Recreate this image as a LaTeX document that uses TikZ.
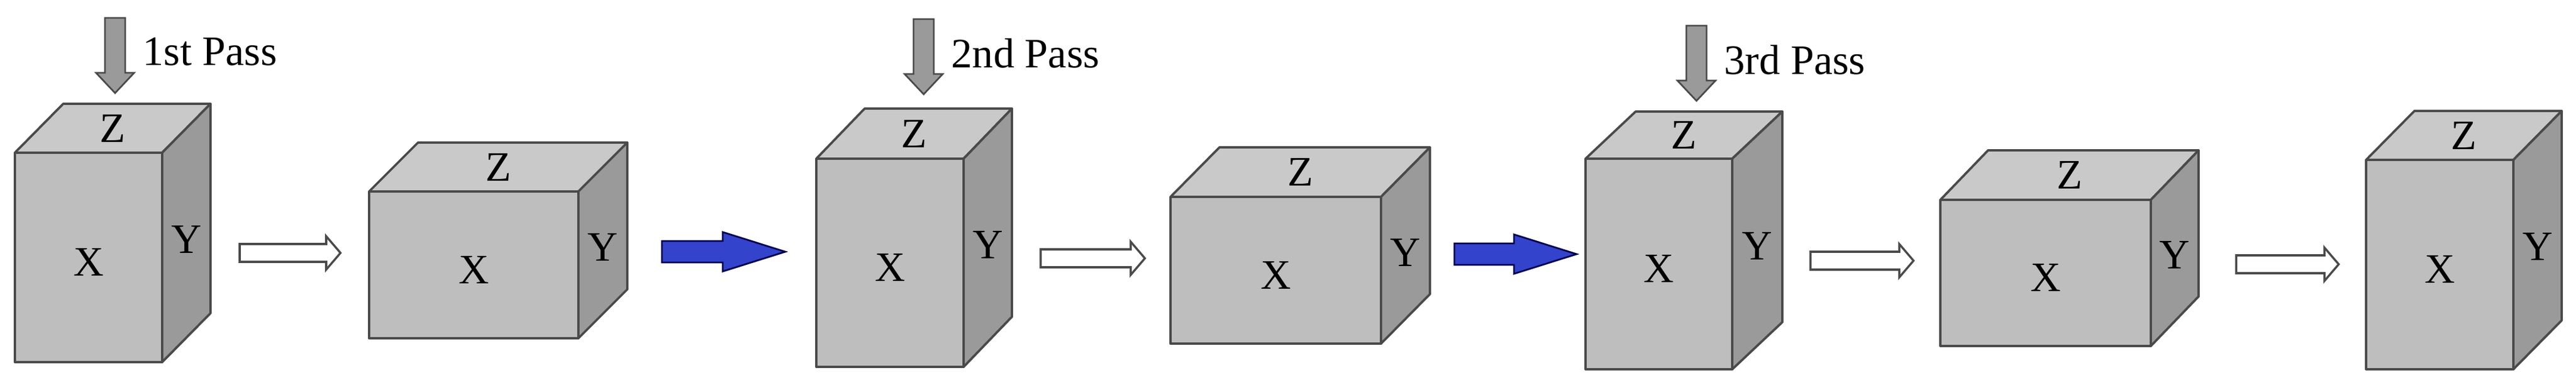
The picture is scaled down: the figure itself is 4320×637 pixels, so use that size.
\documentclass[tikz,border=0pt]{standalone}
\usepackage{fontspec}
\setmainfont{Liberation Serif}
\usetikzlibrary{calc}
\definecolor{frontc}{HTML}{BEBEBE}
\definecolor{topc}{HTML}{C9C9C9}
\definecolor{sidec}{HTML}{9A9A9A}
\definecolor{edgec}{HTML}{4A4A4A}
\definecolor{bluec}{HTML}{3343CC}
\tikzset{
  face/.style={draw=edgec,line width=1.1pt,line join=round},
  lbl/.style={font=\fontsize{20}{23}\selectfont,inner sep=0pt},
  hollow/.style={draw=edgec,fill=white,line width=1pt},
  bluearr/.style={draw=black!70!blue,fill=bluec,line width=0.8pt},
  downarr/.style={draw=edgec,fill=sidec,line width=0.8pt},
}
% name, xl, xr, yt, yb, dx, dy
\newcommand\cubebox[7]{
  \draw[face,fill=frontc] (#2,#4) rectangle (#3,#5);
  \draw[face,fill=topc] (#2,#4) -- ({#2+#6},{#4-#7}) -- ({#3+#6},{#4-#7}) -- (#3,#4) -- cycle;
  \draw[face,fill=sidec] (#3,#4) -- ({#3+#6},{#4-#7}) -- ({#3+#6},{#5-#7}) -- (#3,#5) -- cycle;
  \node[lbl] (#1z) at ({(#2+#3+#6)/2},{#4-#7/2}) {Z};
  \node[lbl] (#1x) at ({(#2+#3)/2},{(#4+#5)/2+8}) {X};
  \node[lbl] (#1y) at ({#3+#6/2},{(#4+#5)/2-30}) {Y};
}
% name, x0, x1, yc : hollow arrow
\newcommand\hollowarrow[4]{
  \coordinate (#1s) at (#2,#4); \coordinate (#1e) at (#3,#4);
  \draw[hollow] (#2,{#4-15}) -- ({#3-24},{#4-15}) -- ({#3-24},{#4-28}) -- (#3,#4) -- ({#3-24},{#4+28}) -- ({#3-24},{#4+15}) -- (#2,{#4+15}) -- cycle;
}
\newcommand\bluearrow[4]{
  \coordinate (#1s) at (#2,#4); \coordinate (#1e) at (#3,#4);
  \draw[bluearr] (#2,{#4-18}) -- ({#3-105},{#4-18}) -- ({#3-105},{#4-33}) -- (#3,#4) -- ({#3-105},{#4+33}) -- ({#3-105},{#4+18}) -- (#2,{#4+18}) -- cycle;
}
% name, xc, ytop, ytip, text
\newcommand\passarrow[5]{
  \coordinate (#1t) at (#2,#3); \coordinate (#1p) at (#2,#4);
  \draw[downarr] ({#2-17},#3) -- ({#2+17},#3) -- ({#2+17},{#4-34}) -- ({#2+32},{#4-34}) -- (#2,#4) -- ({#2-32},{#4-34}) -- ({#2-17},{#4-34}) -- cycle;
  \node[lbl,anchor=west] (#1l) at ({#2+46},{(#3+#4)/2-6}) {#5};
}
\begin{document}
\begin{tikzpicture}[x=0.01cm,y=-0.01cm]
\useasboundingbox[fill=white] (0,0) rectangle (4320,637);
\passarrow{pa}{193}{30}{156}{1st Pass}
\passarrow{pb}{1549}{32}{158}{2nd Pass}
\passarrow{pc}{2845}{43}{169}{3rd Pass}
\cubebox{c1}{25}{272}{256}{607}{81}{82}
\hollowarrow{h1}{402}{571}{424}
\cubebox{c2}{619}{970}{321}{567}{82}{82}
\bluearrow{b1}{1110}{1317}{422}
\cubebox{c3}{1369}{1616}{266}{615}{81}{84}
\hollowarrow{h2}{1745}{1920}{433}
\cubebox{c4}{1963}{2316}{330}{576}{82}{83}
\bluearrow{b2}{2439}{2644}{426}
\cubebox{c5}{2659}{2905}{266}{619}{84}{79}
\hollowarrow{h3}{3036}{3209}{437}
\cubebox{c6}{3254}{3607}{335}{580}{80}{83}
\hollowarrow{h4}{3750}{3922}{443}
\cubebox{c7}{3968}{4215}{268}{619}{81}{82}
\end{tikzpicture}
\end{document}
